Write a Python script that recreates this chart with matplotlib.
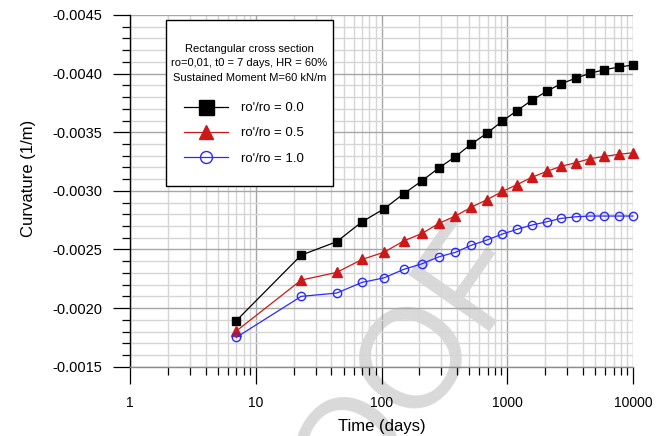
import math
import matplotlib
matplotlib.use("Agg")
import matplotlib.pyplot as plt
from matplotlib.lines import Line2D
from matplotlib.patches import Rectangle
from matplotlib.ticker import FixedLocator, FuncFormatter, MultipleLocator, LogLocator, NullFormatter

plt.rcParams['font.family'] = ['Liberation Sans', 'DejaVu Sans']

# Time after loading (days)
time_days = [7, 23, 44, 70, 105, 150, 210, 287, 386, 515, 687, 916, 1190,
             1565, 2060, 2675, 3500, 4550, 5910, 7690, 10000]

# Curvature (1/m) for each compression reinforcement ratio ro'/ro
curv_00 = [-0.001892, -0.002452, -0.002566, -0.002736, -0.002847, -0.002975,
           -0.003086, -0.003197, -0.003291, -0.003397, -0.003491, -0.003595,
           -0.003683, -0.003772, -0.003849, -0.003914, -0.003960, -0.004003,
           -0.004033, -0.004056, -0.004073]
curv_05 = [-0.001804, -0.002239, -0.002304, -0.002415, -0.002477, -0.002572,
           -0.002637, -0.002723, -0.002785, -0.002859, -0.002924, -0.002995,
           -0.003052, -0.003115, -0.003166, -0.003209, -0.003240, -0.003274,
           -0.003294, -0.003311, -0.003325]
curv_10 = [-0.001750, -0.002100, -0.002128, -0.002219, -0.002258, -0.002330,
           -0.002378, -0.002438, -0.002475, -0.002535, -0.002580, -0.002632,
           -0.002671, -0.002708, -0.002736, -0.002765, -0.002779, -0.002785,
           -0.002785, -0.002785, -0.002785]

series_labels = ["ro'/ro = 0.0", "ro'/ro = 0.5", "ro'/ro = 1.0"]
x_tick_labels = ["1", "10", "100", "1000", "10000"]
legend_title = ("Rectangular cross section\n"
                "ro=0,01, t0 = 7 days, HR = 60%\n"
                "Sustained Moment M=60 kN/m")
watermark = "PROOF"

W, H = 667, 436
fig = plt.figure(figsize=(W / 100, H / 100), dpi=100)
ax = fig.add_axes([130 / W, 1 - 366.7 / H, (633 - 130) / W, (366.7 - 15) / H])

ax.set_xscale('log')
ax.set_xlim(1, 10000)
ax.set_ylim(-0.0015, -0.0045)

ax.xaxis.set_major_locator(FixedLocator([1, 10, 100, 1000, 10000]))
ax.xaxis.set_major_formatter(FuncFormatter(
    lambda v, p: x_tick_labels[int(round(math.log10(v)))] if 1 <= v <= 10000 else ""))
ax.xaxis.set_minor_locator(LogLocator(base=10, subs=range(2, 10)))
ax.xaxis.set_minor_formatter(NullFormatter())

ax.yaxis.set_major_locator(MultipleLocator(0.0005))
ax.yaxis.set_minor_locator(MultipleLocator(0.0001))
ax.yaxis.set_major_formatter(FuncFormatter(lambda v, p: f"{v:.4f}"))

ax.grid(which='major', color='#a6a6a6', linewidth=1.0)
ax.grid(which='minor', color='#d6d6d6', linewidth=1.0)
ax.set_axisbelow(True)

for s in ('top', 'right'):
    ax.spines[s].set_visible(False)
ax.spines['left'].set_color('black')
ax.spines['left'].set_linewidth(1.0)
ax.spines['bottom'].set_color('#8c8c8c')
ax.spines['bottom'].set_linewidth(1.0)

ax.tick_params(which='major', direction='out', length=12, width=0.9,
               color='black', labelsize=10, pad=9)
ax.tick_params(which='minor', direction='out', length=6, width=0.9, color='black')
ax.tick_params(axis='y', which='major', labelsize=10.5, pad=8)

ax.set_xlabel("Time (days)", fontsize=12)
ax.xaxis.set_label_coords(0.5, -(426 - 366.7) / (366.7 - 15))
ax.set_ylabel("Curvature (1/m)", fontsize=12)
ax.yaxis.set_label_coords(-(130 - 28) / (633 - 130), 1 - (178 - 15) / (366.7 - 15))
ax.yaxis.label.set_va('center')
ax.xaxis.label.set_va('center')

# Faint diagonal watermark, beneath grid and curves, not clipped to the axes
ax.text(528 / W, 1 - 260 / H, watermark, transform=fig.transFigure,
        rotation=55, rotation_mode='anchor', ha='right', va='baseline',
        fontsize=102, color='#d9d9d9', zorder=0.4, clip_on=False)

styles = [
    dict(color='black', marker='s', ms=6, mfc='black', mec='black', lw=0.9),
    dict(color='#cc1818', marker='^', ms=7.2, mfc='#cc1818', mec='#cc1818', lw=0.9),
    dict(color='#2a2aff', marker='o', ms=6, mfc='none', mec='#2a2aff', mew=1.0, lw=0.9),
]
legend_ms = [10.8, 10.0, 8.6]
handles = []
for ys, st, lab, lms in zip([curv_00, curv_05, curv_10], styles, series_labels, legend_ms):
    ax.plot(time_days, ys, zorder=3, clip_on=False, **st)
    hst = dict(st)
    hst['ms'] = lms
    handles.append(Line2D([], [], label=lab, **hst))

# Legend box: frame, centred caption and the series entries
box = Rectangle((166 / W, 1 - 186 / H), (333 - 166) / W, (186 - 20) / H,
                transform=fig.transFigure, facecolor='white', edgecolor='black',
                linewidth=1.0, zorder=5)
ax.add_artist(box)
box.set_clip_on(False)
ax.text(249.5 / W, 1 - 63.5 / H, legend_title, transform=fig.transFigure,
        ha='center', va='center', multialignment='center', fontsize=8,
        linespacing=1.62, zorder=6)
leg = ax.legend(handles=handles, loc='upper left',
                bbox_to_anchor=(184 / W, 1 - 102 / H), bbox_transform=fig.transFigure,
                borderaxespad=0, borderpad=0, fontsize=9.5, handlelength=3.35,
                handletextpad=0.95, labelspacing=0.98, frameon=False)
leg.set_zorder(7)

fig.savefig("out.png", dpi=100)
